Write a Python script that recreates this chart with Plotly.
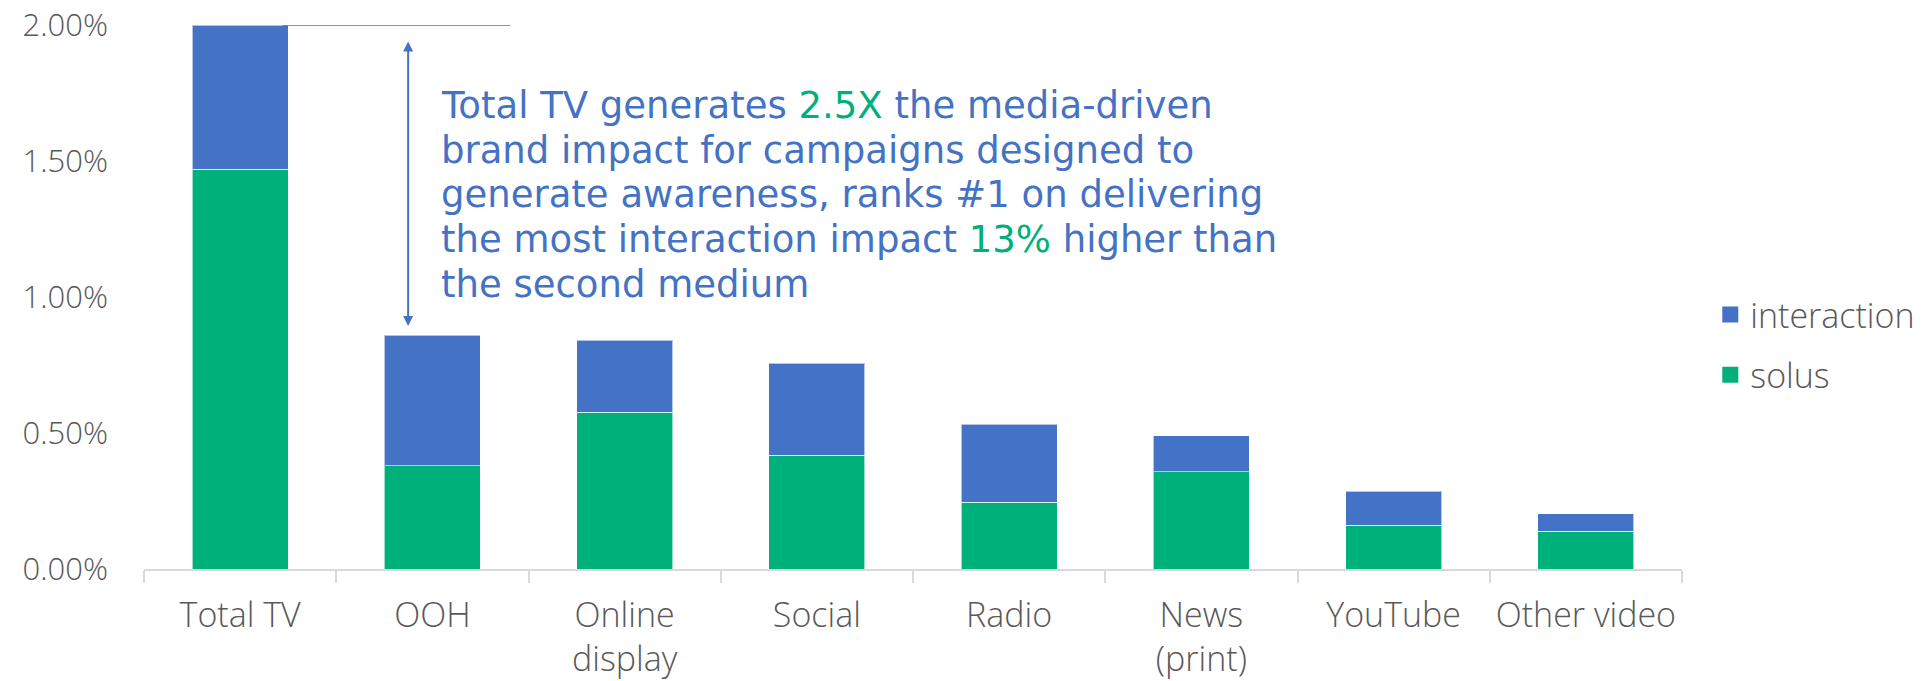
import plotly.graph_objects as go

# Media channels and their brand-impact contributions (share of sales uplift)
categories = ["Total TV", "OOH", "Online<br>display", "Social", "Radio",
              "News<br>(print)", "YouTube", "Other video"]
solus = [0.0147, 0.0038, 0.00576, 0.00418, 0.00246, 0.00357, 0.00161, 0.00139]
interaction = [0.0053, 0.0048, 0.00265, 0.00339, 0.00286, 0.00132, 0.00125, 0.00064]
y_ticks = [0, 0.005, 0.01, 0.015, 0.02]

BLUE = "#4472C4"
GREEN = "#00B07A"
GREY = "#595959"
AXIS = "#D9D9D9"
FAMILY = "Open Sans, Lato, sans-serif"

W, H = 1926, 681
M_L, M_R, M_T, M_B = 144, 244, 25, 112
PLOT_H = H - M_T - M_B

totals = [s + i for s, i in zip(solus, interaction)]

fig = go.Figure()
fig.add_trace(go.Bar(
    x=categories, y=solus, name="solus", marker_color=GREEN,
    marker_line=dict(color="rgba(255,255,255,0.6)", width=1), showlegend=False,
))
fig.add_trace(go.Bar(
    x=categories, y=interaction, name="interaction", marker_color=BLUE,
    marker_line=dict(color="rgba(255,255,255,0.6)", width=1), showlegend=False,
))

# Legend entries with larger square swatches
for name, color, rank in [("interaction", BLUE, 1), ("solus", GREEN, 2)]:
    fig.add_trace(go.Scatter(
        x=[None], y=[None], mode="markers", name=name, legendrank=rank,
        legendgroup=name, hoverinfo="skip",
        marker=dict(symbol="square", size=20, color=color),
    ))

# Reference line at the Total TV level
fig.add_shape(type="line", xref="x", yref="y",
              x0=0.22, x1=1.405, y0=totals[0], y1=totals[0],
              line=dict(color=BLUE, width=1.5))

# Double-headed arrow between Total TV and the second medium
fig.add_annotation(
    x=0.874, y=totals[1], ax=0.874, ay=totals[0],
    xref="x", yref="y", axref="x", ayref="y",
    text="", showarrow=True, arrowhead=2, startarrowhead=2,
    arrowside="end+start", arrowsize=1, arrowwidth=2, arrowcolor=BLUE,
    standoff=9, startstandoff=15,
)

# Callout text, one annotation per line for tight line spacing
callout_lines = [
    "Total TV generates <span style='color:%s'>2.5X</span> the media-driven" % GREEN,
    "brand impact for campaigns designed to",
    "generate awareness, ranks #1 on delivering",
    "the most interaction impact <span style='color:%s'>13%%</span> higher than" % GREEN,
    "the second medium",
]
first_mid_px, line_step_px = 105.5, 44.7
for k, line in enumerate(callout_lines):
    y_px = first_mid_px + k * line_step_px
    fig.add_annotation(
        xref="paper", yref="paper", x=0.192, y=1 - (y_px - M_T) / PLOT_H,
        xanchor="left", yanchor="middle", showarrow=False, align="left",
        font=dict(family="DejaVu Sans, sans-serif", size=37, color=BLUE),
        text=line,
    )

fig.update_layout(
    width=W, height=H,
    margin=dict(l=M_L, r=M_R, t=M_T, b=M_B, autoexpand=False),
    barmode="stack", bargap=0.5,
    plot_bgcolor="white", paper_bgcolor="white",
    showlegend=True,
    legend=dict(xref="container", x=0.888, y=0.412, xanchor="left", yanchor="middle",
                tracegroupgap=13,
                font=dict(family=FAMILY, size=34, color=GREY, weight=300)),
    xaxis=dict(
        showline=True, linecolor=AXIS, linewidth=2,
        ticks="outside", tickson="boundaries", ticklen=12,
        tickcolor=AXIS, tickwidth=1.5, tickangle=0,
        tickfont=dict(family=FAMILY, size=34, color=GREY, weight=300),
        ticklabelstandoff=15,
        showgrid=False, automargin=False,
    ),
    yaxis=dict(
        range=[0, 0.02], tickvals=y_ticks, tickformat=".2%",
        showgrid=False, zeroline=False, showline=False,
        tickfont=dict(family=FAMILY, size=31, color=GREY, weight=300),
        ticklabelstandoff=35, automargin=False,
    ),
)

fig.write_html("out.html")
